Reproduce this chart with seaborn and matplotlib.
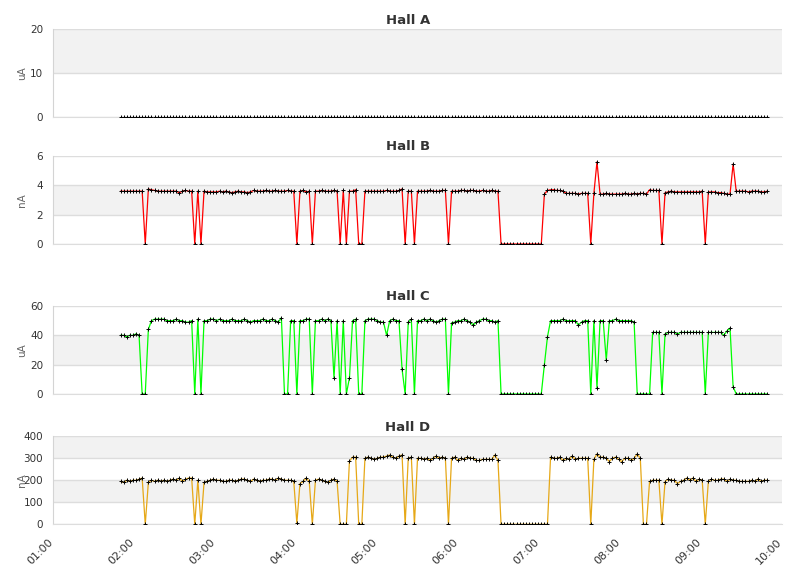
import matplotlib
matplotlib.use("Agg")
import matplotlib.pyplot as plt
import matplotlib.dates as mdates
from matplotlib.transforms import ScaledTranslation
import pandas as pd
import seaborn as sns

# ---------------- data ----------------
times = pd.date_range("2024-01-01 01:50", "2024-01-01 09:49", periods=210)

hall_a = [
    0, 0, 0, 0, 0, 0, 0, 0, 0, 0, 0, 0, 0, 0, 0, 0, 0, 0, 0, 0, 0, 0, 0, 0, 0, 0, 0, 0, 0, 0,
    0, 0, 0, 0, 0, 0, 0, 0, 0, 0, 0, 0, 0, 0, 0, 0, 0, 0, 0, 0, 0, 0, 0, 0, 0, 0, 0, 0, 0, 0,
    0, 0, 0, 0, 0, 0, 0, 0, 0, 0, 0, 0, 0, 0, 0, 0, 0, 0, 0, 0, 0, 0, 0, 0, 0, 0, 0, 0, 0, 0,
    0, 0, 0, 0, 0, 0, 0, 0, 0, 0, 0, 0, 0, 0, 0, 0, 0, 0, 0, 0, 0, 0, 0, 0, 0, 0, 0, 0, 0, 0,
    0, 0, 0, 0, 0, 0, 0, 0, 0, 0, 0, 0, 0, 0, 0, 0, 0, 0, 0, 0, 0, 0, 0, 0, 0, 0, 0, 0, 0, 0,
    0, 0, 0, 0, 0, 0, 0, 0, 0, 0, 0, 0, 0, 0, 0, 0, 0, 0, 0, 0, 0, 0, 0, 0, 0, 0, 0, 0, 0, 0,
    0, 0, 0, 0, 0, 0, 0, 0, 0, 0, 0, 0, 0, 0, 0, 0, 0, 0, 0, 0, 0, 0, 0, 0, 0, 0, 0, 0, 0, 0,
]

hall_b = [
    3.6, 3.6, 3.6, 3.6, 3.6, 3.6, 3.6, 3.6,
    0, 3.75,
    3.7, 3.65, 3.6, 3.6, 3.6, 3.6, 3.6, 3.6, 3.6, 3.5, 3.6, 3.65, 3.6, 3.6,
    0, 3.6, 0, 3.6,
    3.55, 3.55, 3.55, 3.55, 3.6, 3.55, 3.6, 3.55, 3.5, 3.55,
    3.6, 3.55, 3.55, 3.5, 3.55, 3.65, 3.6, 3.6, 3.6, 3.65,
    3.6, 3.6, 3.65, 3.6, 3.6, 3.6, 3.65, 3.6, 3.6,
    0,
    3.6, 3.65, 3.55, 3.6,
    0,
    3.6, 3.6, 3.65, 3.6, 3.6, 3.6, 3.65, 3.6,
    0, 3.65, 0, 3.6, 3.6, 3.7, 0, 0,
    3.6, 3.6, 3.6, 3.6, 3.6, 3.6, 3.6, 3.65, 3.6, 3.6, 3.6, 3.65, 3.75,
    0, 3.6, 3.6, 0,
    3.6, 3.6, 3.6, 3.6, 3.65, 3.6, 3.6, 3.6, 3.65, 3.65,
    0,
    3.6, 3.6, 3.6, 3.65, 3.65, 3.6, 3.65, 3.65, 3.6, 3.6, 3.65, 3.6, 3.6, 3.65, 3.6, 3.6,
    0, 0, 0, 0, 0, 0, 0, 0, 0, 0, 0, 0, 0, 0,
    3.4, 3.65,
    3.7, 3.7, 3.65, 3.65, 3.6, 3.45, 3.45, 3.45, 3.45, 3.4, 3.45, 3.45, 3.45,
    0, 3.45, 5.6, 3.4,
    3.4, 3.45, 3.4, 3.4, 3.4, 3.4, 3.4, 3.45, 3.4, 3.4, 3.45, 3.4, 3.45, 3.45, 3.4,
    3.7, 3.65, 3.65, 3.65,
    0,
    3.5, 3.55, 3.6, 3.55, 3.55, 3.55, 3.55, 3.55, 3.55, 3.55, 3.55, 3.55, 3.6,
    0,
    3.55, 3.55, 3.55, 3.5, 3.5, 3.45, 3.4, 3.4,
    5.45,
    3.6, 3.6, 3.6, 3.6, 3.55, 3.6, 3.6, 3.6, 3.55, 3.55, 3.6,
]

hall_c = [
    40, 40, 39, 40, 40, 41, 40,
    0, 0, 44,
    50, 51, 51, 51, 51, 50, 50, 50, 51, 50, 50, 49, 49, 50,
    0, 51, 0, 50,
    50, 51, 51, 50, 51, 50, 50, 50, 51, 50,
    50, 50, 51, 50, 49, 50, 50, 50, 51, 50,
    50, 51, 50, 49, 52,
    0, 0, 50, 50, 0,
    50, 50, 51, 51,
    0,
    50, 50, 51, 50, 51, 50,
    11, 50, 0, 50, 0, 11, 50, 51, 0, 0,
    50, 51, 51, 51, 50, 49, 49, 40, 50, 51, 50, 50,
    17, 0, 49, 51, 0,
    50, 50, 51, 50, 51, 50, 49, 50, 51, 51,
    0, 48.5,
    49, 50, 50, 51, 50, 49, 47, 49, 50, 51, 51, 50, 50, 49, 50,
    0, 0, 0, 0, 0, 0, 0, 0, 0, 0, 0, 0, 0, 0,
    20, 39,
    50, 50, 50, 50, 51, 50, 50, 50, 50, 47, 49, 50, 50,
    0, 50, 4, 50, 50, 23,
    50, 50, 51, 50, 50, 50, 50, 50, 49,
    0, 0, 0, 0, 0,
    42, 42, 42,
    0,
    41, 42, 42, 42, 41, 42, 42, 42, 42, 42, 42, 42, 42,
    0,
    42, 42, 42, 42, 42,
    40, 43, 45, 5,
    0, 0, 0, 0, 0, 0, 0, 0, 0, 0, 0,
]

hall_d = [
    195, 190, 200, 195, 200, 200, 205, 210,
    0,
    190, 200, 195, 200, 195, 200, 195, 200, 205, 200, 210, 195, 205, 210, 210,
    0, 200, 0, 190,
    195, 200, 205, 200, 200, 195, 195, 200, 200, 195,
    200, 205, 205, 200, 195, 205, 200, 195, 200, 200,
    205, 205, 200, 210, 205, 200, 200, 200, 195,
    5, 185, 195, 210, 195,
    0,
    200, 205, 200, 195, 190, 200, 205, 195,
    0, 0, 0, 288, 305, 305, 0, 0,
    300, 305, 300, 295, 300, 305, 305, 310, 315, 305, 300, 310, 315,
    0, 300, 305, 0,
    300, 300, 295, 300, 290, 300, 310, 300, 305, 300,
    0,
    300, 305, 290, 300, 295, 305, 300, 300, 290, 290, 295, 295, 295, 295, 315, 290,
    0, 0, 0, 0, 0, 0, 0, 0, 0, 0, 0, 0, 0, 0, 0, 0,
    305, 300, 300, 305, 290, 300, 295, 310, 295, 300, 300, 300, 300,
    0,
    295, 320, 305, 305, 300, 285, 300, 305, 295, 285, 300, 300, 290, 300, 320, 300,
    0, 0,
    195, 200, 200, 200,
    0,
    194, 205, 200, 200, 185, 195, 200, 210, 200, 210, 195, 205, 200,
    0,
    195, 205, 200, 200, 205, 205, 195, 205, 200, 200,
    195, 195, 195, 195, 200, 195, 205, 195, 200, 200,
]

titles = ["Hall A", "Hall B", "Hall C", "Hall D"]
units = ["uA", "nA", "uA", "nA"]
y_ticks = [[0, 10, 20], [0, 2, 4, 6], [0, 20, 40, 60], [0, 100, 200, 300, 400]]
series = [hall_a, hall_b, hall_c, hall_d]

# ---------------- style ----------------
line_colors = ["#888888", "#ff0000", "#00ff00", "#e6a817"]
sns.set_style("white")
plt.rcParams["font.family"] = ["DejaVu Sans"]

fig = plt.figure(figsize=(8.11, 5.78), dpi=100)
left, width, height = 53 / 811, 729 / 811, 88 / 578
tops_px = [29.3, 156, 306, 436.3]

x0 = pd.Timestamp("2024-01-01 01:00")
x1 = pd.Timestamp("2024-01-01 10:00")

for k in range(4):
    bottom = 1 - (tops_px[k] + 88) / 578
    ax = fig.add_axes([left, bottom, width, height])
    df = pd.DataFrame({"time": times, "value": series[k]})
    ticks = y_ticks[k]
    for j in range(len(ticks) - 1):
        if j % 2 == 1:
            ax.axhspan(ticks[j], ticks[j + 1], color="#f2f2f2", lw=0, zorder=0)
    sns.lineplot(data=df, x="time", y="value", ax=ax, color=line_colors[k],
                 lw=0.9, marker="+", markersize=3, markeredgecolor="black",
                 markeredgewidth=0.7, errorbar=None, zorder=3)
    ax.set_xlim(x0, x1)
    ax.set_ylim(ticks[0], ticks[-1])
    ax.set_yticks(ticks)
    ax.grid(axis="y", color="#dddddd", lw=1)
    ax.grid(axis="x", visible=False)
    ax.set_axisbelow(True)
    for s in ["top", "right"]:
        ax.spines[s].set_visible(False)
    ax.spines["left"].set_color("#d4d4d4")
    ax.spines["bottom"].set_color("#dddddd")
    ax.tick_params(axis="y", length=0, labelsize=7.5, colors="#333333", pad=7)
    ax.tick_params(axis="x", length=0, labelsize=8, colors="#333333", pad=9)
    ax.set_xlabel("")
    ax.set_ylabel(units[k], fontsize=7.5, color="#666666")
    ax.yaxis.set_label_coords(-0.036, 0.5)
    ax.set_title(titles[k], fontsize=9.5, fontweight="bold", color="#333333",
                 pad=4, x=0.487)
    ax.xaxis.set_major_locator(mdates.HourLocator())
    ax.xaxis.set_major_formatter(mdates.DateFormatter("%H:%M"))
    if k < 3:
        ax.tick_params(axis="x", labelbottom=False)
    else:
        shift = ScaledTranslation(-5 / 100, 0, fig.dpi_scale_trans)
        for lab in ax.get_xticklabels():
            lab.set_rotation(45)
            lab.set_ha("right")
            lab.set_rotation_mode("anchor")
            lab.set_transform(lab.get_transform() + shift)

fig.savefig("out.png", dpi=100)
